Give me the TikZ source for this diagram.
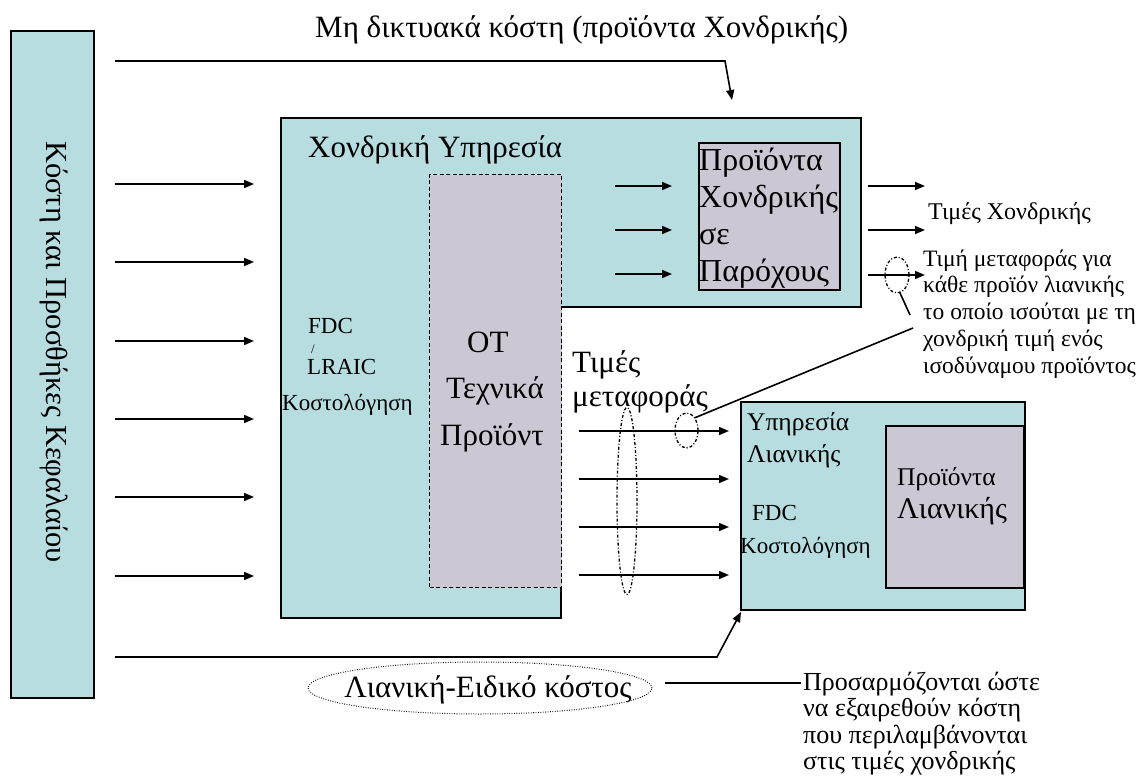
\documentclass[tikz,border=0pt]{standalone}
\usepackage{fontspec}
\setmainfont{Liberation Serif}
\usetikzlibrary{arrows.meta,shapes.geometric}
\definecolor{tealfill}{RGB}{184,221,225}
\definecolor{greyfill}{RGB}{203,200,212}
\newcommand\fsz[1]{\fontsize{#1}{#1}\selectfont}
\tikzset{
 tealbox/.style={draw=black, fill=tealfill, line width=1.6pt},
 greybox/.style={draw=black, fill=greyfill, line width=1.6pt},
 arr/.style={-{Triangle[length=10pt,width=8pt]}, line width=1.6pt},
 ln/.style={line width=1.6pt},
 txt/.style={inner sep=0pt, anchor=base west},
 dd/.style={draw=black, line width=1.3pt, dash pattern=on 3pt off 2pt on 1pt off 2pt},
}
\begin{document}
\begin{tikzpicture}[x=1pt,y=-1pt]
\useasboundingbox (0,0) rectangle (1141,778);
% title
\node[txt, font=\fsz{31}] (title) at (315,38) {Μη δικτυακά κόστη (προϊόντα Χονδρικής)};
% left box
\node[tealbox, minimum width=83pt, minimum height=667pt, inner sep=0, anchor=north west] (cap) at (10,30) {};
\node[rotate=-90, font=\fsz{30.5}, inner sep=0] (captxt) at (54,352) {Κόστη και Προσθήκες Κεφαλαίου};
% wholesale L-shape
\draw[tealbox] (281,118) -| (861,307) -| (561,618) -| (281,118) -- cycle;
\node[txt, font=\fsz{31}] (whtitle) at (308,158) {Χονδρική Υπηρεσία};
% OT dashed box
\node[greybox, line width=1.2pt, dash pattern=on 4pt off 2.5pt, minimum width=132pt, minimum height=413pt, anchor=north west, inner sep=0] (ot) at (429,174) {};
\node[txt, font=\fsz{31}] (ot1) at (467,352) {ΟΤ};
\node[txt, font=\fsz{31}] (ot2) at (446,398) {Τεχνικά};
\node[txt, font=\fsz{31}] (ot3) at (440,445) {Προϊόντ};
% FDC LRAIC
\node[txt, font=\fsz{23}] (f1) at (308,333) {FDC};
\node[txt, font=\fsz{13}] (f2) at (311,353) {/};
\node[txt, font=\fsz{23}] (f3) at (307,374) {LRAIC};
\node[txt, font=\fsz{23}] (f4) at (282,410) {Κοστολόγηση};
% wholesale products box
\node[greybox, minimum width=141pt, minimum height=147pt, anchor=north west, inner sep=0] (pw) at (698,142) {};
\node[txt, font=\fsz{32}] (pw1) at (699,171) {Προϊόντα};
\node[txt, font=\fsz{32}] (pw2) at (699,208) {Χονδρικής};
\node[txt, font=\fsz{32}] (pw3) at (699,245) {σε};
\node[txt, font=\fsz{32}] (pw4) at (699,282) {Παρόχους};
% arrows into products
\foreach \y [count=\i] in {186,230,274} {
  \coordinate (pa\i) at (615,\y); \coordinate (pb\i) at (672,\y);
  \draw[arr] (pa\i) -- (pb\i);
}
% arrows out of wholesale
\foreach \y [count=\i] in {186,230,275} {
  \coordinate (oa\i) at (868,\y); \coordinate (ob\i) at (925,\y);
  \draw[arr] (oa\i) -- (ob\i);
}
\node[txt, font=\fsz{24}] (tx) at (928,220) {Τιμές Χονδρικής};
% transfer price note
\node[txt, font=\fsz{23.5}] (n1) at (923,266) {Τιμή μεταφοράς για};
\node[txt, font=\fsz{23.5}] (n2) at (923,293) {κάθε προϊόν λιανικής};
\node[txt, font=\fsz{23.5}] (n3) at (923,319) {το οποίο ισούται με τη};
\node[txt, font=\fsz{23.5}] (n4) at (923,346) {χονδρική τιμή ενός};
\node[txt, font=\fsz{23.5}] (n5) at (923,373) {ισοδύναμου προϊόντος};
% left arrows
\foreach \y [count=\i] in {184,262,341,419,497,576} {
  \coordinate (la\i) at (115,\y); \coordinate (lb\i) at (254,\y);
  \draw[arr] (la\i) -- (lb\i);
}
% top connector
\coordinate (ts) at (115,61); \coordinate (tk) at (725,61); \coordinate (te) at (732,100);
\draw[arr] (ts) -- (tk) -- (te);
% retail box
\node[tealbox, minimum width=284pt, minimum height=208pt, anchor=north west, inner sep=0] (rb) at (740,401) {};
\node[greybox, minimum width=138pt, minimum height=162pt, anchor=north west, inner sep=0] (rp) at (885,425) {};
\node[txt, font=\fsz{25.5}] (r1) at (747,430) {Υπηρεσία};
\node[txt, font=\fsz{25.5}] (r2) at (747,462) {Λιανικής};
\node[txt, font=\fsz{23}] (r3) at (752,520) {FDC};
\node[txt, font=\fsz{23}] (r4) at (740,553) {Κοστολόγηση};
\node[txt, font=\fsz{25.5}] (rp1) at (897,485) {Προϊόντα};
\node[txt, font=\fsz{30}] (rp2) at (897,518) {Λιανικής};
% transfer arrows
\foreach \y [count=\i] in {431,479,527,575} {
  \coordinate (ta\i) at (579,\y); \coordinate (tb\i) at (729,\y);
  \draw[arr] (ta\i) -- (tb\i);
}
\node[txt, font=\fsz{31}] (tm1) at (572,372) {Τιμές};
\node[txt, font=\fsz{31}] (tm2) at (572,406) {μεταφοράς};
% ellipses
\node[ellipse, dd, minimum width=20pt, minimum height=187pt, inner sep=0] (bigell) at (627,501) {};
\node[ellipse, dd, minimum width=23pt, minimum height=35pt, inner sep=0] (lell) at (686.5,430.5) {};
\node[ellipse, dd, minimum width=24pt, minimum height=36pt, inner sep=0] (uell) at (897,275) {};
% callout lines
\coordinate (c0) at (900,293); \coordinate (c1) at (910,315); \coordinate (c2) at (913,328);
\draw[ln] (c0) -- (c1);
\draw[ln] (c2) -- (lell.north east);
% bottom connector
\coordinate (bs) at (115,657); \coordinate (bk) at (717,657); \coordinate (be) at (741,612);
\draw[arr] (bs) -- (bk) -- (be);
% bottom ellipse
\node[ellipse, draw, line width=1pt, dash pattern=on 0.8pt off 1.6pt, minimum width=344pt, minimum height=52pt, inner sep=0] (rell) at (480,688) {};
\node[font=\fsz{31}, inner sep=0] (relltxt) at (488,690) {Λιανική-Ειδικό κόστος};
\coordinate (nl0) at (665,683); \coordinate (nl) at (801,683);
\draw[ln] (nl0) -- (nl);
\node[txt, font=\fsz{26}] (a1) at (803,690) {Προσαρμόζονται ώστε};
\node[txt, font=\fsz{26}] (a2) at (803,716) {να εξαιρεθούν κόστη};
\node[txt, font=\fsz{26}] (a3) at (803,743) {που περιλαμβάνονται};
\node[txt, font=\fsz{26}] (a4) at (803,769) {στις τιμές χονδρικής};
\end{tikzpicture}
\end{document}
